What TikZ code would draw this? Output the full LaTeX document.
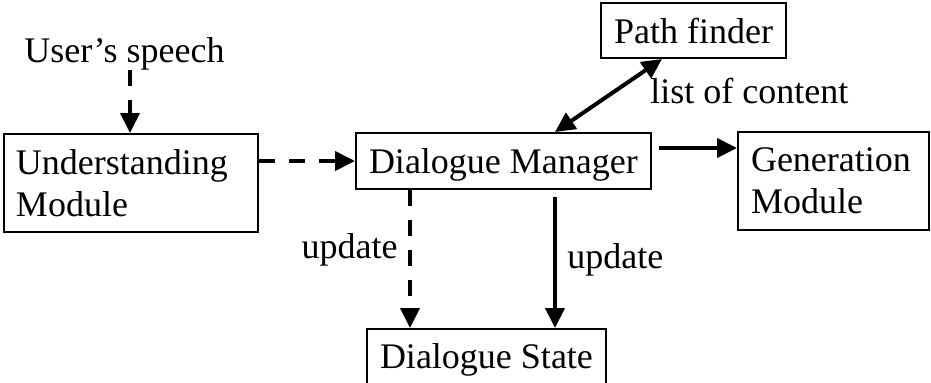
\documentclass[tikz,border=0pt]{standalone}
\usepackage{fontspec}
\setmainfont{Liberation Serif}
\usetikzlibrary{positioning, arrows.meta, calc}
\tikzset{
  box/.style   ={draw, line width=1pt, inner sep=6.5pt, fill=white},
  lbox/.style  ={box, align=left, inner xsep=6pt},
  lbl/.style   ={inner sep=0pt},
  flow/.style  ={-{Triangle[length=10pt, width=9.5pt]}, line width=2pt},
  flowbi/.style={{Triangle[length=10pt, width=9.5pt]}-{Triangle[length=10pt, width=9.5pt]}, line width=2pt},
  dflow/.style ={flow, dash pattern=on 8pt off 7pt},
}

\begin{document}
\begin{tikzpicture}[x=0.5pt, y=-0.5pt, font=\fontsize{18}{21}\selectfont]
  \useasboundingbox (0,0) rectangle (931,382);
  \clip (0,0) rectangle (931,382);
  % modules
  \node[lbox, anchor=north west, minimum width=127pt, minimum height=49pt, text width=115pt] (um) at (3,133) {Understanding\\Module};
  \node[box, anchor=north west, minimum width=147pt, minimum height=28pt, text depth=0pt] (dm) at (355,132) {Dialogue Manager};
  \node[box, anchor=north west, minimum width=92.5pt, minimum height=27.5pt] (pf) at (600,2) {Path finder};
  \node[lbox, anchor=north west, minimum width=95.5pt, minimum height=49pt, text width=82.5pt, inner xsep=6.5pt] (gm) at (737,131) {Generation\\Module};
  \node[box, anchor=north west, minimum width=118.5pt, minimum height=30.5pt] (ds) at (366,328) {Dialogue State};
  % labels
  \node[lbl, anchor=base west] (us) at (24,62) {User’s speech};
  \node[lbl, anchor=base west] (loc) at (650,103) {list of content};
  \node[lbl, anchor=base east] (upd1) at (398,258) {update};
  \node[lbl, anchor=base west] (upd2) at (567,268) {update};
  % connectors
  \coordinate (usin) at ([xshift=63.5pt]um.north west);
  \draw[dflow] (usin |- us.south) -- (usin);
  \draw[dflow] (um.east |- dm.west) -- (dm.west);
  \coordinate (pfout) at ([xshift=31pt]pf.south west);
  \coordinate (dmtop) at ([xshift=100pt]dm.north west);
  \draw[flowbi] (pfout) -- (dmtop);
  \coordinate (dmout) at ([xshift=3.5pt, yshift=6.5pt]dm.east);
  \draw[flow] (dmout) -- (dmout -| gm.west);
  \coordinate (dmd1) at ([xshift=27.5pt]dm.south west);
  \draw[dflow] (dmd1) -- (dmd1 |- ds.north);
  \coordinate (dmd2) at ([xshift=100pt, yshift=-3.5pt]dm.south west);
  \draw[flow] (dmd2) -- (dmd2 |- ds.north);
\end{tikzpicture}
\end{document}
